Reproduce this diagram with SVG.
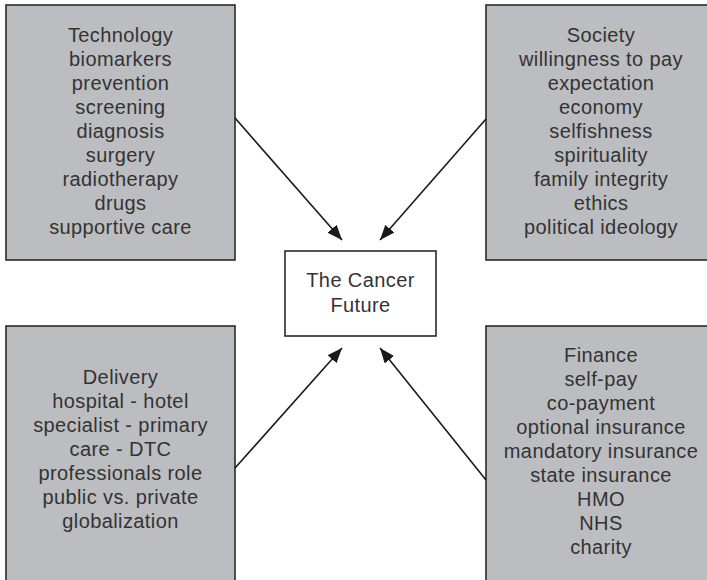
<svg xmlns="http://www.w3.org/2000/svg" width="707" height="580" viewBox="0 0 707 580">
<style>
.box{fill:#bcbdc0;stroke:#2a2a2a;stroke-width:1.6}
.center{fill:#ffffff;stroke:#2a2a2a;stroke-width:1.6}
text{font-family:"Liberation Sans",Arial,sans-serif;font-size:20px;fill:#333333;text-anchor:middle;letter-spacing:0.4px}
.conn{stroke:#1a1a1a;stroke-width:1.6;fill:none;marker-end:url(#ah)}
</style>
<defs>
<marker id="ah" markerUnits="userSpaceOnUse" markerWidth="16" markerHeight="12" refX="15" refY="6" orient="auto">
<path d="M0,0 L15,6 L0,12 Z" fill="#1a1a1a"/>
</marker>
</defs>
<rect width="707" height="580" fill="#ffffff"/>
<g id="technology">
<rect class="box" x="6" y="5" width="229" height="255"/>
<text x="120.5" y="42">Technology</text>
<text x="120.5" y="66">biomarkers</text>
<text x="120.5" y="90">prevention</text>
<text x="120.5" y="114">screening</text>
<text x="120.5" y="138">diagnosis</text>
<text x="120.5" y="162">surgery</text>
<text x="120.5" y="186">radiotherapy</text>
<text x="120.5" y="210">drugs</text>
<text x="120.5" y="234">supportive care</text>
</g>
<g id="society">
<rect class="box" x="486" y="5" width="230" height="255"/>
<text x="601" y="42">Society</text>
<text x="601" y="66">willingness to pay</text>
<text x="601" y="90">expectation</text>
<text x="601" y="114">economy</text>
<text x="601" y="138">selfishness</text>
<text x="601" y="162">spirituality</text>
<text x="601" y="186">family integrity</text>
<text x="601" y="210">ethics</text>
<text x="601" y="234">political ideology</text>
</g>
<g id="delivery">
<rect class="box" x="6" y="326" width="229" height="264"/>
<text x="120.5" y="384">Delivery</text>
<text x="120.5" y="408">hospital - hotel</text>
<text x="120.5" y="432">specialist - primary</text>
<text x="120.5" y="456">care - DTC</text>
<text x="120.5" y="480">professionals role</text>
<text x="120.5" y="504">public vs. private</text>
<text x="120.5" y="528">globalization</text>
</g>
<g id="finance">
<rect class="box" x="486" y="326" width="230" height="264"/>
<text x="601" y="362">Finance</text>
<text x="601" y="386">self-pay</text>
<text x="601" y="410">co-payment</text>
<text x="601" y="434">optional insurance</text>
<text x="601" y="458">mandatory insurance</text>
<text x="601" y="482">state insurance</text>
<text x="601" y="506">HMO</text>
<text x="601" y="530">NHS</text>
<text x="601" y="554">charity</text>
</g>
<g id="cancer-future">
<rect class="center" x="285" y="251" width="151" height="85"/>
<text x="360.5" y="287">The Cancer</text>
<text x="360.5" y="312">Future</text>
</g>
<g id="connectors">
<line class="conn" x1="235" y1="118" x2="342" y2="240"/>
<line class="conn" x1="486" y1="119" x2="380" y2="240"/>
<line class="conn" x1="235" y1="468" x2="342" y2="348"/>
<line class="conn" x1="486" y1="480" x2="380" y2="348"/>
</g>
</svg>
